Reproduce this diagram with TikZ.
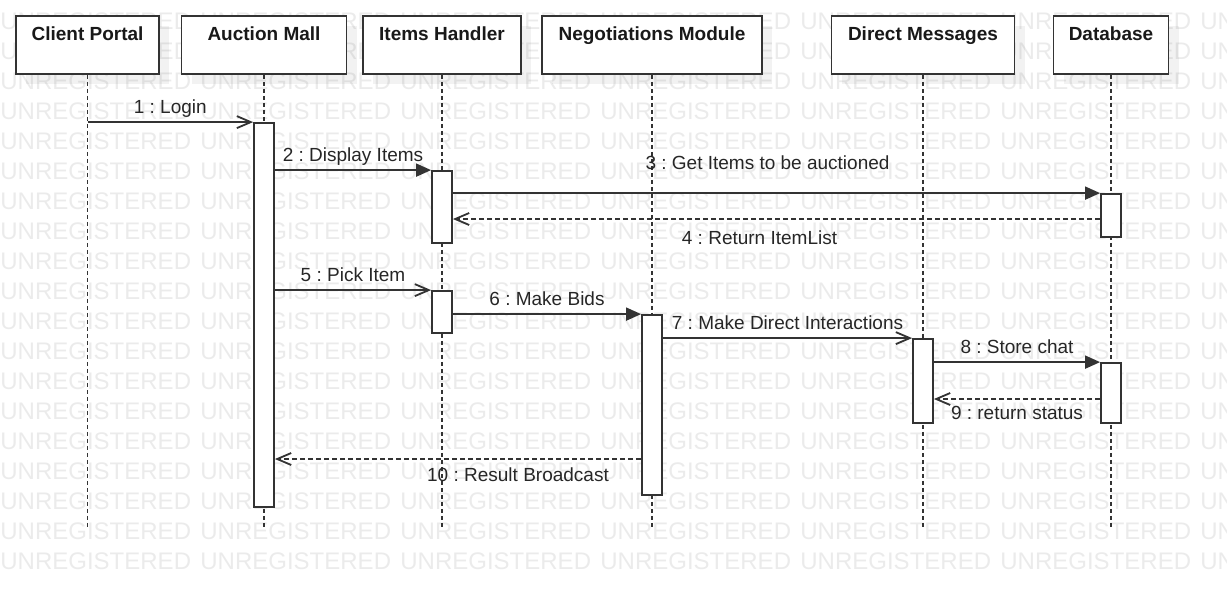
\documentclass[tikz,border=0pt]{standalone}
\usepackage{fontspec}
\setmainfont{Liberation Sans}
\usetikzlibrary{arrows.meta,fit,shadows}
\definecolor{ink}{HTML}{333333}
\definecolor{wmgray}{HTML}{EBEBEB}
\frenchspacing

\begin{document}
\begin{tikzpicture}[
        x=0.5pt, y=-0.5pt,
        head/.style={draw=ink, line width=0.9pt, fill=white, anchor=north,
                     inner xsep=0pt, inner ysep=0pt,
                     text height=12.5pt, text depth=16.5pt, text=black!90,
                     font=\fontsize{9.5}{11}\selectfont\bfseries,
                     drop shadow={shadow xshift=5pt, shadow yshift=-5pt,
                                  fill=black, opacity=0.05}},
        life/.style={draw=ink, line width=0.7pt, dash pattern=on 2pt off 1.5pt},
        bar/.style={draw=ink, line width=0.9pt, fill=white, inner sep=0pt},
        call/.style={draw=ink, line width=0.9pt,
                     -{Straight Barb[length=7pt, width=6pt]}},
        sync/.style={draw=ink, line width=0.9pt,
                     -{Triangle[length=7.5pt, width=6.5pt]}},
        reply/.style={call, dash pattern=on 2.5pt off 1.5pt},
        lbl/.style={font=\fontsize{9.5}{11}\selectfont, text=black!85,
                    inner sep=0pt, text height=7pt, text depth=2pt},
        wm/.style={font=\fontsize{12}{14}\selectfont, text=wmgray,
                   anchor=west, inner sep=0pt}
    ]
        \useasboundingbox (0,0) rectangle (1227,591);

        \begin{scope}
            \clip (0,0) rectangle (1227,591);
            \foreach \r in {0,...,18}
                \foreach \c in {0,...,6}
                    \node[wm] (wm-\r-\c) at (200*\c, 21+30*\r) {UNREGISTERED};
        \end{scope}

        \node[head, minimum width=71.5pt] (portal) at (87.5,15) {Client Portal};
        \node[head, minimum width=82.5pt] (mall) at (264,15) {Auction Mall};
        \node[head, minimum width=79pt] (items) at (442,15) {Items Handler};
        \node[head, minimum width=110pt] (nego) at (652,15) {Negotiations Module};
        \node[head, minimum width=91.5pt] (dms) at (923,15) {Direct Messages};
        \node[head, minimum width=57.5pt] (db) at (1111,15) {Database};

        \coordinate (bottom) at (0,528);
        \foreach \p in {portal,mall,items,nego,dms,db}
            \draw[life] (\p.south) -- (\p.south |- bottom);

        \node[bar, fit={(254,123) (274,507)}] (mall-act) {};
        \node[bar, fit={(432,171) (452,243)}] (items-act1) {};
        \node[bar, fit={(432,291) (452,333)}] (items-act2) {};
        \node[bar, fit={(642,315) (662,495)}] (nego-act) {};
        \node[bar, fit={(913,339) (933,423)}] (dms-act) {};
        \node[bar, fit={(1101,194) (1121,237)}] (db-act1) {};
        \node[bar, fit={(1101,363) (1121,423)}] (db-act2) {};

        \coordinate (ret4) at (0,219);
        \coordinate (ret9) at (0,399);
        \coordinate (ret10) at (0,459);

        \draw[call] (portal.south |- mall-act.north) -- (mall-act.north west)
            node[lbl, midway, yshift=7pt] {1 : Login};
        \draw[sync] (mall-act.east |- items-act1.north) -- (items-act1.north west)
            node[lbl, midway, yshift=7pt] {2 : Display Items};
        \draw[sync] (items-act1.east |- db-act1.north) -- (db-act1.north west)
            node[lbl, midway, xshift=-4.5pt, yshift=14.5pt] {3 : Get Items to be auctioned};
        \draw[reply] (db-act1.west |- ret4) -- (items-act1.east |- ret4)
            node[lbl, midway, xshift=-8.5pt, yshift=-10pt] {4 : Return ItemList};
        \draw[call] (mall-act.east |- items-act2.north) -- (items-act2.north west)
            node[lbl, midway, yshift=7pt] {5 : Pick Item};
        \draw[sync] (items-act2.east |- nego-act.north) -- (nego-act.north west)
            node[lbl, midway, yshift=7pt] {6 : Make Bids};
        \draw[call] (nego-act.east |- dms-act.north) -- (dms-act.north west)
            node[lbl, midway, yshift=7pt] {7 : Make Direct Interactions};
        \draw[sync] (dms-act.east |- db-act2.north) -- (db-act2.north west)
            node[lbl, midway, yshift=7pt] {8 : Store chat};
        \draw[reply] (db-act2.west |- ret9) -- (dms-act.east |- ret9)
            node[lbl, midway, yshift=-7.5pt] {9 : return status};
        \draw[reply] (nego-act.west |- ret10) -- (mall-act.east |- ret10)
            node[lbl, midway, xshift=30pt, yshift=-8.5pt] {10 : Result Broadcast};
    \end{tikzpicture}
\end{document}
